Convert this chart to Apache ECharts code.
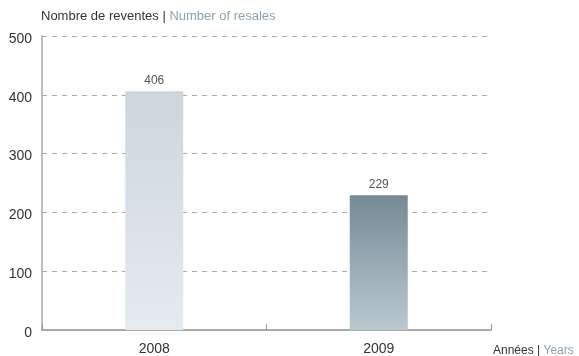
<!DOCTYPE html>
<html>
<head>
<meta charset="utf-8">
<script src="https://cdn.jsdelivr.net/npm/echarts@6/dist/echarts.min.js"></script>
<style>
  html, body { margin: 0; padding: 0; background: #fff; }
  #chart { width: 579px; height: 356px; }
</style>
</head>
<body>
<div id="chart"></div>
<script>
const years = ['2008', '2009']
const resales = [406, 229]
const yTicks = [0, 100, 200, 300, 400, 500]

// couleurs des barres (haut -> bas)
const barColors = [
  ['#cdd6dd', '#e4ebf1'],
  ['#768a95', '#bac9d0']
]

const chart = echarts.init(document.getElementById('chart'))

chart.setOption({
  backgroundColor: '#fff',
  animation: false,
  textStyle: { fontFamily: 'Liberation Sans, Arial, sans-serif' },
  title: [
    {
      left: 36,
      top: 5,
      text: '{a|Nombre de reventes | }{b|Number of resales}',
      textStyle: {
        fontWeight: 'normal',
        rich: {
          a: { fontSize: 13, color: '#333', fontWeight: 'normal' },
          b: { fontSize: 13, color: '#8fa3ae', fontWeight: 'normal' }
        }
      }
    },
    {
      left: 488,
      top: 340,
      text: '{a|Années | }{b|Years}',
      textStyle: {
        fontWeight: 'normal',
        rich: {
          a: { fontSize: 12, color: '#333', fontWeight: 'normal' },
          b: { fontSize: 12, color: '#8fa3ae', fontWeight: 'normal' }
        }
      }
    }
  ],
  grid: { left: 42, right: 88, top: 36, bottom: 23 },
  xAxis: {
    type: 'category',
    data: years,
    axisLine: { lineStyle: { color: '#aaa', width: 2 } },
    axisTick: { show: true, inside: true, length: 6, lineStyle: { color: '#999', width: 1 } },
    axisLabel: { color: '#333', fontSize: 14, margin: 12 }
  },
  yAxis: {
    type: 'value',
    min: yTicks[0],
    max: yTicks[yTicks.length - 1],
    interval: 100,
    axisLine: { show: true, lineStyle: { color: '#aaa', width: 1.5 } },
    axisTick: { show: false },
    axisLabel: { color: '#333', fontSize: 14, margin: 10, verticalAlign: 'top', lineHeight: 6 },
    splitLine: {
      show: true,
      lineStyle: { color: '#aaa', type: [5, 5], width: 1 }
    }
  },
  series: [
    {
      type: 'bar',
      barWidth: 58,
      data: resales.map((v, i) => ({
        value: v,
        itemStyle: {
          color: new echarts.graphic.LinearGradient(0, 0, 0, 1, [
            { offset: 0, color: barColors[i][0] },
            { offset: 1, color: barColors[i][1] }
          ])
        }
      })),
      label: {
        show: true,
        position: 'top',
        distance: 5,
        color: '#555',
        fontSize: 12
      }
    }
  ]
})
</script>
</body>
</html>
